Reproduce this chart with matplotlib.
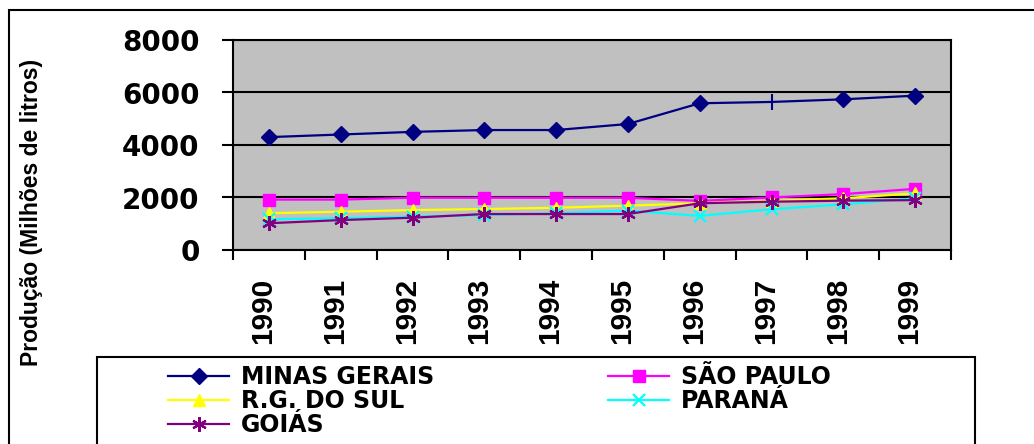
import numpy as np
import matplotlib
matplotlib.use('Agg')
import matplotlib.pyplot as plt
from matplotlib.patches import Rectangle
from matplotlib.transforms import ScaledTranslation

# data (milhões de litros)
anos = ['1990', '1991', '1992', '1993', '1994', '1995', '1996', '1997', '1998', '1999']
minas_gerais = [4300, 4400, 4500, 4570, 4570, 4800, 5590, 5640, 5740, 5880]
sao_paulo = [1920, 1920, 1990, 1990, 1990, 1990, 1870, 2000, 2130, 2330]
rg_do_sul = [1400, 1460, 1520, 1560, 1610, 1690, 1780, 1870, 1970, 2160]
parana = [1170, 1210, 1270, 1330, 1400, 1500, 1300, 1550, 1740, 1970]
goias = [1020, 1140, 1230, 1370, 1370, 1370, 1780, 1840, 1880, 1900]

W, H = 1034, 444
fig = plt.figure(figsize=(W / 100, H / 100), dpi=100)
ax = fig.add_axes([233 / W, 1 - 250 / H, (951 - 233) / W, (250 - 40) / H])
ax.set_facecolor('#C0C0C0')

x = np.arange(len(anos))
mg_marks = [i for i in range(len(anos)) if i != 7]
l_mg, = ax.plot(x, minas_gerais, color='#000080', lw=1.6, marker='D', ms=8,
                markevery=mg_marks, label='MINAS GERAIS', zorder=3)
ax.plot(x[7], minas_gerais[7], color='#000080', marker='|', ms=11, mew=1.5,
        ls='none', zorder=3)
l_sp, = ax.plot(x, sao_paulo, color='#FF00FF', lw=1.6, marker='s', ms=9,
                label='SÃO PAULO', zorder=3)
l_rs, = ax.plot(x, rg_do_sul, color='#FFFF00', lw=1.6, marker='^', ms=8.5,
                label='R.G. DO SUL', zorder=3)
l_pr, = ax.plot(x, parana, color='#00FFFF', lw=1.6, marker='x', ms=8.5, mew=1.6,
                label='PARANÁ', zorder=3)
l_go, = ax.plot(x, goias, color='#800080', lw=1.6, marker=(6, 2, 0), ms=10.5,
                mew=1.6, label='GOIÁS', zorder=3)

ax.set_xlim(-0.5, 9.5)
ax.set_ylim(0, 8000)
ax.set_yticks([0, 2000, 4000, 6000, 8000])
ax.set_yticklabels(['0', '2000', '4000', '6000', '8000'],
                   fontfamily='DejaVu Sans', fontweight='bold', fontsize=20)
ax.set_xticks(x)
ax.set_xticklabels(anos, rotation=90, fontfamily='Liberation Sans',
                   fontweight='bold', fontsize=21.5, va='top')
ax.set_xticks(np.arange(-0.5, 10, 1), minor=True)
ax.tick_params(axis='x', which='major', length=0, pad=20)
ax.tick_params(axis='x', which='minor', length=7.5, width=1.5, direction='out')
ax.tick_params(axis='y', length=8, width=1.5, direction='out', pad=16)
for lab in ax.get_xticklabels():
    lab.set_transform(lab.get_transform() + ScaledTranslation(-4 / 72, 0, fig.dpi_scale_trans))

ax.yaxis.grid(True, color='black', lw=1.5)
ax.set_axisbelow(True)
for sp in ax.spines.values():
    sp.set_linewidth(1.5)
    sp.set_color('black')

fig.text(32 / W, 1 - 212 / H, 'Produção (Milhões de litros)', rotation=90,
         ha='center', va='center', fontfamily='Liberation Sans',
         fontweight='bold', fontsize=16.5)

# outer chart border and legend box (they run past the bottom/right edge)
fig.add_artist(Rectangle((9 / W, -0.5), 2, 1.5 - 10 / H, transform=fig.transFigure,
                         fill=False, lw=1.5, ec='black'))
fig.add_artist(Rectangle((97 / W, -0.5), (975 - 97) / W, 0.5 + 1 - 357 / H,
                         transform=fig.transFigure, fill=False, lw=1.5, ec='black'))

leg_kw = dict(loc='upper left', frameon=False, borderpad=0, labelspacing=0.0,
              handlelength=2.6, handletextpad=0.5, borderaxespad=0,
              prop={'family': 'DejaVu Sans', 'weight': 'bold', 'size': 17})
fig.legend(handles=[l_mg, l_rs, l_go], bbox_to_anchor=(168 / W, 1 - 365 / H), **leg_kw)
fig.legend(handles=[l_sp, l_pr], bbox_to_anchor=(608 / W, 1 - 365 / H), **leg_kw)

fig.savefig('out.png', dpi=100)
